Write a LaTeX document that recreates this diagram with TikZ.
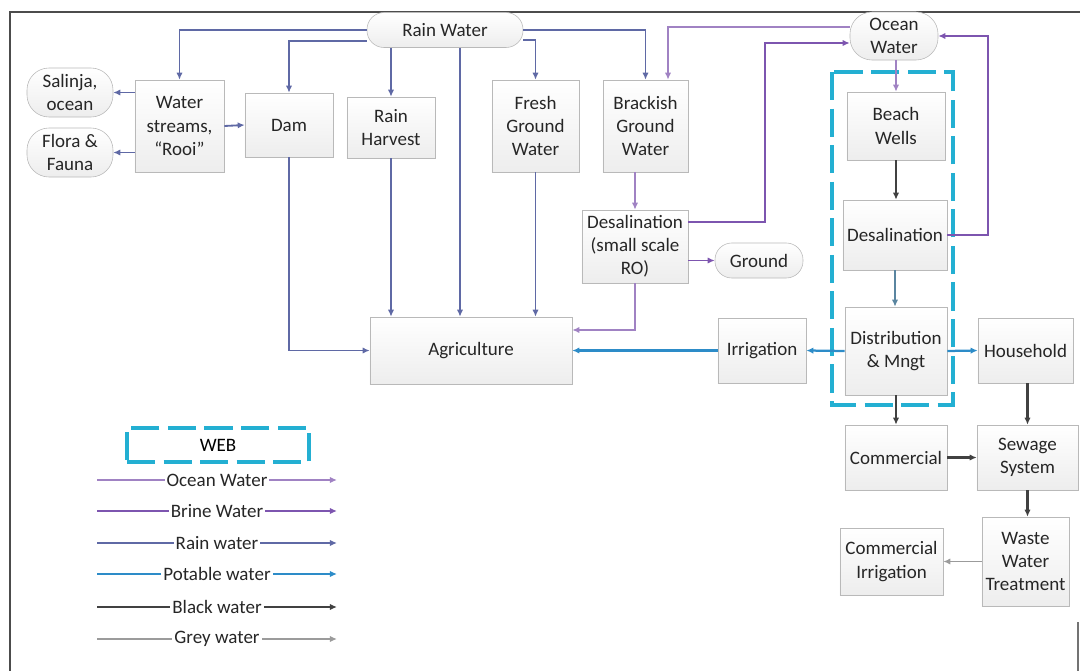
\documentclass[tikz,border=0pt]{standalone}
\usepackage{fontspec}
\setmainfont{Carlito}
\usetikzlibrary{arrows.meta}

\definecolor{oceanc}{RGB}{160,130,195}
\definecolor{brinec}{RGB}{125,85,175}
\definecolor{rainc}{RGB}{95,105,165}
\definecolor{potc}{RGB}{45,140,200}
\definecolor{blackc}{RGB}{65,65,65}
\definecolor{greyc}{RGB}{155,155,155}
\definecolor{webc}{RGB}{35,175,210}

\tikzset{
    box/.style={draw=gray!55, top color=white, bottom color=gray!14, align=center, inner sep=0pt, text=black!85},
    pill/.style={box, rounded corners=#1},
    flow/.style={-{Latex[length=5pt,width=4.5pt]}},
    oceanw/.style={flow, draw=oceanc, line width=1pt},
    brinew/.style={flow, draw=brinec, line width=1.4pt},
    rainw/.style={flow, draw=rainc, line width=1.3pt},
    potw/.style={flow, draw=potc, line width=1.6pt},
    blackw/.style={flow, draw=blackc, line width=1.5pt},
    greyw/.style={flow, draw=greyc, line width=1.1pt},
    webbox/.style={draw=webc, line width=2.2pt, dash pattern=on 20pt off 6pt},
    legtxt/.style={fill=white, inner sep=1.5pt, text=black!85},
}

\begin{document}
\begin{tikzpicture}[x=0.025cm, y=-0.025cm, every node/.style={font=\fontsize{13.5}{16.5}\selectfont}]
    \useasboundingbox (0,0) rectangle (1080,671);
    \draw[black!70, line width=2pt] (10,671) -- (10,12) -- (1080,12);
    \draw[black!55, line width=1.5pt] (1078,622) -- (1078,671);

    \draw[webbox] (832,72) rectangle (953,405);

    \node[pill=0.425cm, minimum width=3.9cm, minimum height=0.875cm] (rain) at (445,30) {Rain Water};
    \node[pill=0.55cm, minimum width=2.2cm, minimum height=1.2cm] (ocean) at (894,36) {Ocean\\Water};
    \node[pill=0.55cm, minimum width=2.15cm, minimum height=1.225cm] (salinja) at (70,92.5) {Salinja,\\ocean};
    \node[pill=0.55cm, minimum width=2.15cm, minimum height=1.225cm] (flora) at (70,152.5) {Flora \&\\Fauna};
    \node[box, minimum width=2.225cm, minimum height=2.3cm] (streams) at (179.5,126) {Water\\streams,\\“Rooi”};
    \node[box, minimum width=2.2cm, minimum height=1.6cm] (dam) at (289,125) {Dam};
    \node[box, minimum width=2.2cm, minimum height=1.525cm] (harvest) at (391,127.5) {Rain\\Harvest};
    \node[box, minimum width=2.175cm, minimum height=2.3cm] (fresh) at (535.5,126) {Fresh\\Ground\\Water};
    \node[box, minimum width=2.125cm, minimum height=2.3cm] (brackish) at (645.5,126) {Brackish\\Ground\\Water};
    \node[box, minimum width=2.45cm, minimum height=1.7cm] (beach) at (896,126) {Beach\\Wells};
    \node[box, minimum width=2.6cm, minimum height=1.75cm] (desalbig) at (895,235) {Desalination};
    \node[box, minimum width=2.65cm, minimum height=1.825cm] (desalro) at (635,246.5) {Desalination\\(small scale\\RO)};
    \node[pill=0.42cm, minimum width=2.2cm, minimum height=0.875cm] (ground) at (759,260.5) {Ground};
    \node[box, minimum width=5.05cm, minimum height=1.675cm] (agri) at (471,350.5) {Agriculture};
    \node[box, minimum width=2.2cm, minimum height=1.625cm] (irrig) at (762,350.5) {Irrigation};
    \node[box, minimum width=2.55cm, minimum height=2.2cm] (dist) at (896,351) {Distribution\\\& Mngt};
    \node[box, minimum width=2.375cm, minimum height=1.625cm] (house) at (1025.5,350.5) {Household};
    \node[box, minimum width=2.55cm, minimum height=1.625cm] (comm) at (896,457.5) {Commercial};
    \node[box, minimum width=2.525cm, minimum height=1.625cm] (sewage) at (1027.5,457.5) {Sewage\\System};
    \node[box, minimum width=2.175cm, minimum height=2.225cm] (waste) at (1025.5,561.5) {Waste\\Water\\Treatment};
    \node[box, minimum width=2.575cm, minimum height=1.675cm] (commirr) at (891.5,561.5) {Commercial\\Irrigation};

    \draw[rainw] (rain.west) -| (streams.north);
    \draw[rainw] ([yshift=-0.275cm]rain.west) -| (dam.north);
    \draw[rainw] (harvest.north |- rain.south) -- (harvest.north);
    \draw[rainw] (460,0 |- rain.south) -- (460,0 |- agri.north);
    \draw[rainw] ([yshift=-0.25cm]rain.east) -| (fresh.north);
    \draw[rainw] (rain.east) -| (brackish.north);
    \draw[oceanw] ([yshift=0.225cm]ocean.west) -| ([xshift=0.5625cm]brackish.north);
    \draw[rainw] (streams.west |- salinja.east) -- (salinja.east);
    \draw[rainw] (streams.west |- flora.east) -- (flora.east);
    \draw[rainw] (streams.east) -- (dam.west);
    \draw[rainw] (dam.south) |- (agri.west);
    \draw[rainw] (harvest.south) -- (harvest.south |- agri.north);
    \draw[rainw] (fresh.south) -- (fresh.south |- agri.north);
    \draw[oceanw] (desalro.north |- brackish.south) -- (desalro.north);
    \draw[brinew] ([yshift=0.6125cm]desalro.east) -- ++(77,0) |- ([yshift=-0.175cm]ocean.west);
    \draw[brinew] (desalbig.east) -- ++(41,0) |- (ocean.east);
    \draw[brinew] (desalro.east |- ground.west) -- (ground.west);
    \draw[oceanw] (desalro.south) |- ([yshift=0.5125cm]agri.east);
    \draw[oceanw] (beach.north |- ocean.south) -- (beach.north);
    \draw[blackw] (beach.south) -- (beach.south |- desalbig.north);
    \draw[flow, draw=potc!45!gray, line width=1pt] (desalbig.south) -- (desalbig.south |- dist.north);
    \draw[potw] (irrig.west) -- (agri.east);
    \draw[potw] (dist.west) -- (irrig.east);
    \draw[potw] (dist.east) -- (house.west);
    \draw[blackw] (dist.south) -- (comm.north);
    \draw[blackw] (house.south -| sewage.north) -- (sewage.north);
    \draw[blackw] (comm.east) -- (sewage.west);
    \draw[blackw] (sewage.south) -- (sewage.south |- waste.north);
    \draw[greyw] (waste.west) -- (commirr.east);

    \node[webbox, minimum width=4.55cm, minimum height=0.85cm, inner sep=0pt] (webkey) at (218,445) {WEB};
    \foreach \sty/\txt/\yy [count=\i] in {oceanw/Ocean Water/480, brinew/Brine Water/511, rainw/Rain water/543, potw/Potable water/574, blackw/Black water/607, greyw/Grey water/639}{
      \coordinate (leg\i a) at (97,\yy);
      \coordinate (leg\i b) at (337,\yy);
      \draw[\sty] (leg\i a) -- node[legtxt] {\txt} (leg\i b);
    }
\end{tikzpicture}
\end{document}
